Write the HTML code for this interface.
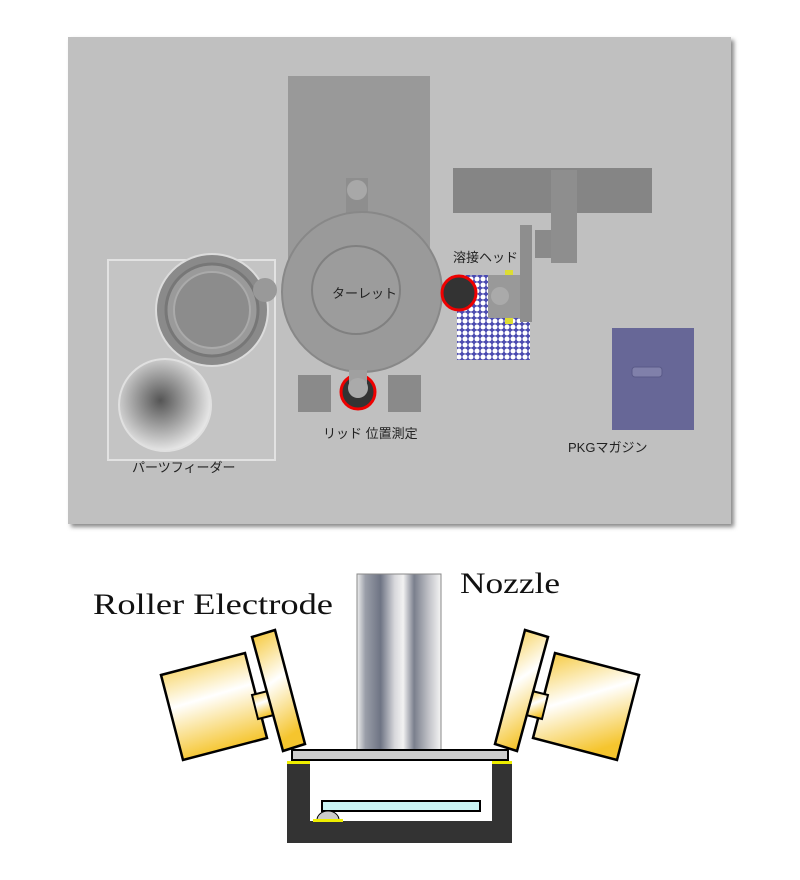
<!DOCTYPE html>
<html><head><meta charset="utf-8"><style>
body{margin:0;background:#fff;width:800px;height:880px;overflow:hidden}
</style></head><body>
<svg width="800" height="880" xmlns="http://www.w3.org/2000/svg" style="position:absolute;left:0;top:0">
<defs>
<pattern id="mesh" width="6" height="6" patternUnits="userSpaceOnUse"><rect width="6" height="6" fill="#4a4ab0"/><circle cx="3" cy="3" r="2.5" fill="#fff"/></pattern>
<radialGradient id="bowl2" cx="0.45" cy="0.45" r="0.55"><stop offset="0" stop-color="#555"/><stop offset="1" stop-color="#e6e6e6"/></radialGradient>
<linearGradient id="noz" x1="0" x2="1"><stop offset="0" stop-color="#eee"/><stop offset="0.1" stop-color="#9a9ea8"/><stop offset="0.28" stop-color="#6e7484"/><stop offset="0.45" stop-color="#d8d8dc"/><stop offset="0.55" stop-color="#f2f2f2"/><stop offset="0.68" stop-color="#7a7f8d"/><stop offset="0.85" stop-color="#bfc0c6"/><stop offset="1" stop-color="#f4f4f4"/></linearGradient>
<linearGradient id="yel" x1="0" y1="0" x2="0.3" y2="1"><stop offset="0" stop-color="#f5c52e"/><stop offset="0.5" stop-color="#fff"/><stop offset="1" stop-color="#f5c52e"/></linearGradient>
<filter id="sh"><feDropShadow dx="3" dy="3" stdDeviation="2" flood-color="#888"/></filter>
</defs>
<rect x="68" y="37" width="663" height="487" fill="#c0c0c0" filter="url(#sh)"/>
<rect x="288" y="76" width="142" height="190" fill="#999"/>
<rect x="108" y="260" width="167" height="200" fill="#c4c4c4" stroke="#e2e2e2" stroke-width="2"/>
<circle cx="165" cy="405" r="46" fill="url(#bowl2)" stroke="#e0e0e0" stroke-width="2"/>
<circle cx="212" cy="310" r="56" fill="#8a8a8a" stroke="#dcdcdc" stroke-width="2"/>
<circle cx="212" cy="310" r="46" fill="#9a9a9a" stroke="#777" stroke-width="3"/>
<circle cx="212" cy="310" r="38" fill="#8c8c8c" stroke="#aaa" stroke-width="2"/>
<circle cx="265" cy="290" r="12" fill="#999"/>
<rect x="346" y="178" width="22" height="42" fill="#8e8e8e"/>
<circle cx="357" cy="190" r="10" fill="#a8a8a8"/>
<circle cx="362" cy="292" r="80" fill="#9a9a9a" stroke="#888" stroke-width="2"/>
<circle cx="356" cy="290" r="44" fill="#9c9c9c" stroke="#808080" stroke-width="2"/>
<text x="332" y="298" font-family="Liberation Sans, Noto Sans CJK JP, sans-serif" font-size="13" fill="#222">ターレット</text>
<rect x="298" y="375" width="33" height="37" fill="#8a8a8a"/>
<rect x="388" y="375" width="33" height="37" fill="#8a8a8a"/>
<circle cx="358" cy="392" r="17" fill="#333" stroke="#e00" stroke-width="3"/>
<rect x="349" y="370" width="18" height="22" fill="#a0a0a0"/>
<circle cx="358" cy="388" r="10" fill="#aaa"/>
<text x="323" y="438" font-family="Liberation Sans, Noto Sans CJK JP, sans-serif" font-size="13" fill="#222">リッド 位置測定</text>
<rect x="453" y="168" width="199" height="45" fill="#858585"/>
<rect x="551" y="170" width="26" height="93" fill="#8e8e8e"/>
<rect x="535" y="230" width="16" height="28" fill="#8a8a8a"/>
<rect x="457" y="275" width="73" height="85" fill="url(#mesh)"/>
<rect x="520" y="225" width="12" height="97" fill="#8e8e8e"/>
<rect x="505" y="270" width="8" height="6" fill="#dd3"/>
<rect x="505" y="318" width="8" height="6" fill="#dd3"/>
<rect x="488" y="275" width="32" height="43" fill="#999"/>
<circle cx="500" cy="296" r="9" fill="#aaa"/>
<circle cx="459" cy="293" r="17" fill="#333" stroke="#e00" stroke-width="3"/>
<text x="453" y="262" font-family="Liberation Sans, Noto Sans CJK JP, sans-serif" font-size="13" fill="#222">溶接ヘッド</text>
<rect x="612" y="328" width="82" height="102" fill="#676797"/>
<rect x="632" y="367" width="30" height="10" rx="3" fill="#8080aa" stroke="#5a5a88"/>
<text x="568" y="452" font-family="Liberation Sans, Noto Sans CJK JP, sans-serif" font-size="13" fill="#222">PKGマガジン</text>
<text x="132" y="472" font-family="Liberation Sans, Noto Sans CJK JP, sans-serif" font-size="13" fill="#222">パーツフィーダー</text>

<text x="93" y="614" font-family="Liberation Serif, serif" font-size="30" fill="#111" textLength="240" lengthAdjust="spacingAndGlyphs">Roller Electrode</text>
<text x="460" y="593" font-family="Liberation Serif, serif" font-size="30" fill="#111" textLength="100" lengthAdjust="spacingAndGlyphs">Nozzle</text>
<rect x="357" y="574" width="84" height="177" fill="url(#noz)" stroke="#888"/>
<polygon points="161,675 245,653 267,738 183,760" fill="url(#yel)" stroke="#000" stroke-width="2.5"/>
<polygon points="252,695 268,691 274,715 258,719" fill="url(#yel)" stroke="#000" stroke-width="2"/>
<polygon points="252,637 275,630 305,744 283,751" fill="url(#yel)" stroke="#000" stroke-width="2.5"/>
<polygon points="639,675 555,653 533,738 617,760" fill="url(#yel)" stroke="#000" stroke-width="2.5"/>
<polygon points="548,695 532,691 526,715 542,719" fill="url(#yel)" stroke="#000" stroke-width="2"/>
<polygon points="548,637 525,630 495,744 517,751" fill="url(#yel)" stroke="#000" stroke-width="2.5"/>
<rect x="292" y="750" width="216" height="10" fill="#ccc" stroke="#000" stroke-width="2"/>
<path d="M287,764 H310 V821 H492 V764 H512 V843 H287 Z" fill="#333"/>
<rect x="287" y="761" width="23" height="3" fill="#ee0"/>
<rect x="492" y="761" width="20" height="3" fill="#ee0"/>
<rect x="322" y="801" width="158" height="10" fill="#c8f4f4" stroke="#000" stroke-width="2"/>
<path d="M317,820 A11,9 0 0 1 339,820 Z" fill="#ccc" stroke="#000"/>
<rect x="313" y="819" width="30" height="3" fill="#ee0"/>
</svg>
</body></html>
